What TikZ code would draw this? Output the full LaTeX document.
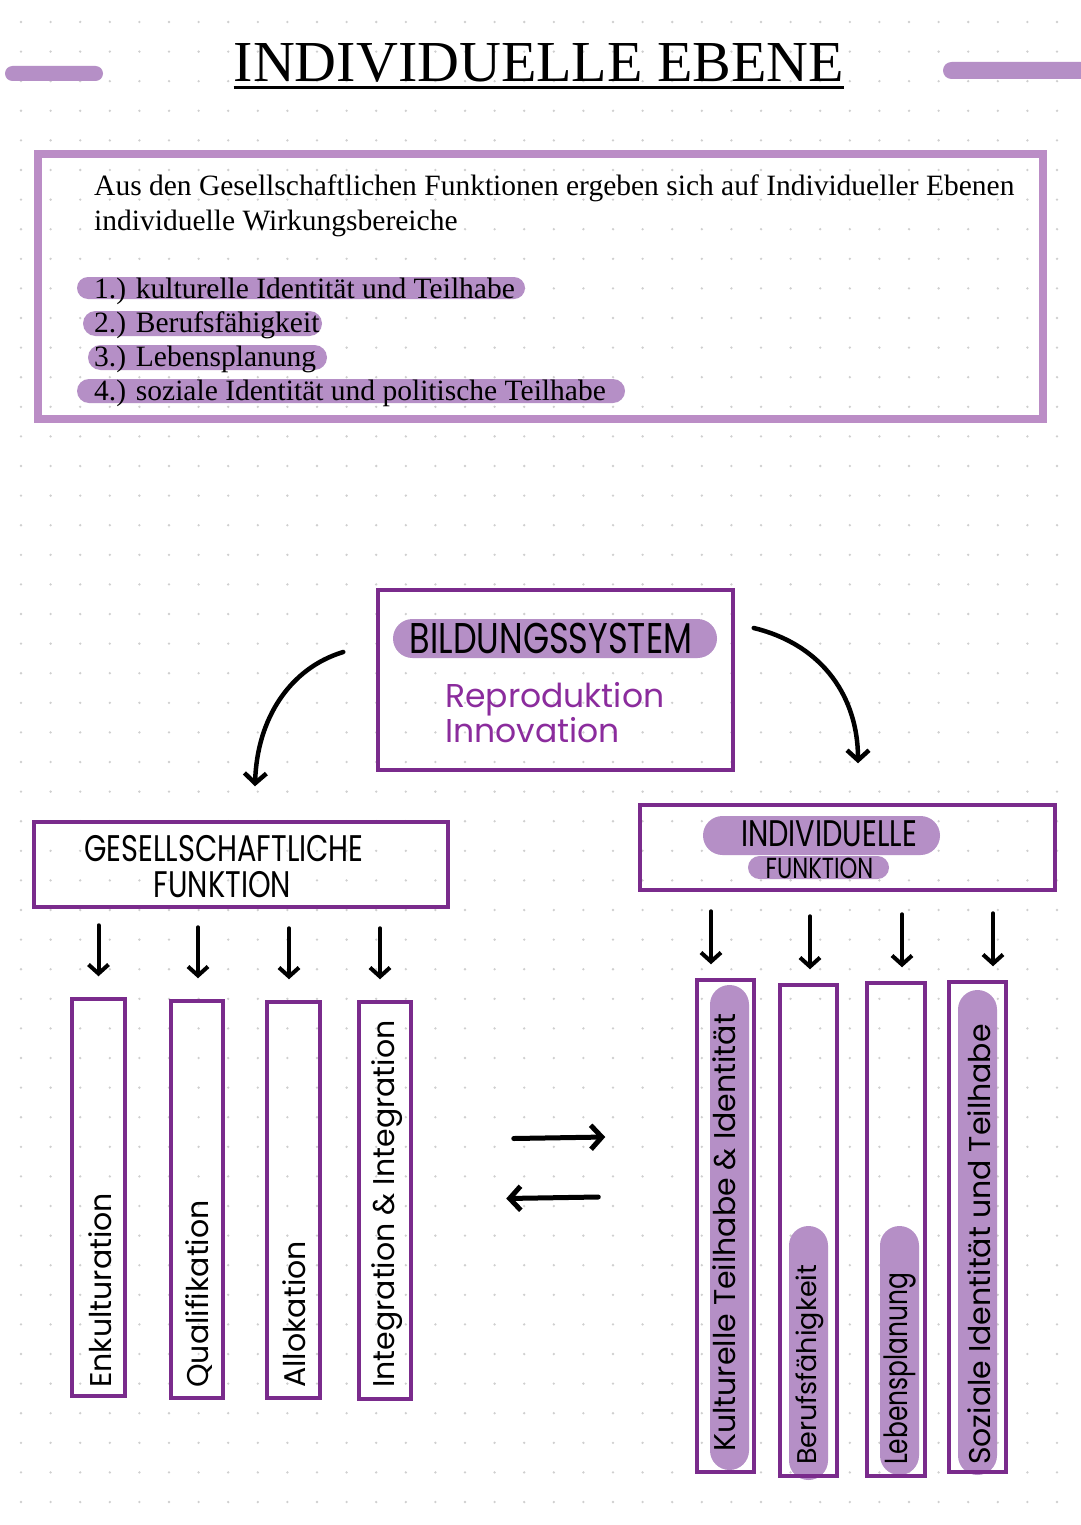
\documentclass[tikz,border=0pt]{standalone}
\usepackage{fontspec}
\setmainfont{Liberation Serif}
\newfontfamily\hand{Poppins}
\newfontfamily\handc[FakeStretch=0.78]{Poppins}
\usetikzlibrary{arrows.meta}
\definecolor{pill}{HTML}{B58FC6}
\definecolor{frame}{HTML}{BB8DC6}
\definecolor{deep}{HTML}{7A2B8C}
\definecolor{repro}{HTML}{8B2C9D}
\definecolor{griddot}{HTML}{CFCFCF}

\begin{document}
\begin{tikzpicture}[x=1pt,y=-1pt,
    box/.style={draw=deep,line width=3.5pt,inner sep=0pt},
    hilite/.style={fill=pill,rounded corners=#1},
    hilite/.default=11pt,
    serif/.style={font=\fontsize{29.5}{34}\selectfont,anchor=base west,inner sep=0pt},
    head/.style={font=\handc\fontsize{#1}{#1}\selectfont,inner sep=0pt},
    vlabel/.style={font=\hand\fontsize{30}{30}\selectfont,rotate=90,anchor=west,inner sep=0pt},
    arr/.style={-{Straight Barb[length=9pt,width=20pt]},line width=4pt,line cap=round},
    bigarr/.style={-{Straight Barb[length=11pt,width=24pt]},line width=5pt,line cap=round}]
  \useasboundingbox (0,0) rectangle (1080,1525);
  \fill[white] (0,0) rectangle (1080,1525);
  \foreach \i in {0,...,36}
    \foreach \j in {0,...,51}
      \fill[griddot] (21+29.6*\i,22+29.6*\j) circle (1.3pt);

  % title
  \fill[hilite=7.5pt] (5,66) rectangle (103,81);
  \fill[hilite=8.5pt] (943,62) rectangle (1090,79);
  \node[font=\fontsize{58}{60}\selectfont,inner sep=0pt,anchor=base] (title) at (539,82) {INDIVIDUELLE EBENE};
  \draw[line width=3pt] ([yshift=-6pt]title.base west) -- ([yshift=-6pt]title.base east);

  % intro box
  \draw[frame,line width=8pt] (38,154) rectangle (1043,419);
  \node[serif] (i1) at (94,196) {Aus den Gesellschaftlichen Funktionen ergeben sich auf Individueller Ebenen};
  \node[serif] (i2) at (94,230) {individuelle Wirkungsbereiche};
  \fill[hilite] (77,277) rectangle (525,299);
  \fill[hilite=12.5pt] (83,311) rectangle (322,336);
  \fill[hilite=12.5pt] (88,345) rectangle (327,370);
  \fill[hilite=12pt] (77,379) rectangle (625,403);
  \node[serif] (l1) at (94,298) {1.) kulturelle Identität und Teilhabe};
  \node[serif] (l2) at (94,332) {2.) Berufsfähigkeit};
  \node[serif] (l3) at (94,366) {3.) Lebensplanung};
  \node[serif] (l4) at (94,400) {4.) soziale Identität und politische Teilhabe};

  % bildungssystem
  \node[box,minimum width=355pt,minimum height=180pt] (bs) at (555.5,680) {};
  \fill[hilite=19.5pt] (393,619) rectangle (717,658);
  \node[head=43] (bst) at (551,638) {BILDUNGSSYSTEM};
  \node[font=\hand\fontsize{33}{32}\selectfont,text=repro,align=left,anchor=north west,inner sep=0pt] (ri) at (445,682) {Reproduktion\\Innovation};

  % function boxes
  \node[box,minimum width=414pt,minimum height=85pt] (gf) at (241,864.5) {};
  \node[head=37] (gf1) at (224,849) {GESELLSCHAFTLICHE};
  \node[head=37] (gf2) at (222.5,885) {FUNKTION};
  \node[box,minimum width=415pt,minimum height=85pt] (if) at (847.5,847.5) {};
  \fill[hilite=19.5pt] (703,816) rectangle (940,855);
  \fill[hilite=11.5pt] (748,856) rectangle (889,879);
  \node[head=37] (if1) at (829,834) {INDIVIDUELLE};
  \node[head=29] (if2) at (819.5,868) {FUNKTION};

  \draw[line width=4.5pt,line cap=round,-{Straight Barb[length=10pt,width=22pt]}]
    ([xshift=-33pt,yshift=28pt]bs.west) .. controls +(-53,16) and +(2,-68) .. ([xshift=14pt,yshift=34pt]gf.north);
  \draw[line width=4.5pt,line cap=round,-{Straight Barb[length=10pt,width=22pt]}]
    ([xshift=19pt,yshift=52pt]bs.east) .. controls +(70,17) and +(0,-65) .. ([xshift=10.5pt,yshift=40pt]if.north);

  % gesellschaftliche
  \node[box,minimum width=53pt,minimum height=397pt] (g1) at (98.5,1197.5) {};
  \node[box,minimum width=52pt,minimum height=397pt] (g2) at (197,1199.5) {};
  \node[box,minimum width=53pt,minimum height=396pt] (g3) at (293.5,1200) {};
  \node[box,minimum width=52pt,minimum height=397pt] (g4) at (385,1200.5) {};
  \node[vlabel] (t1) at (100,1388) {Enkulturation};
  \node[vlabel] (t2) at (199,1388) {Qualifikation};
  \node[vlabel] (t3) at (294,1388) {Allokation};
  \node[vlabel] (t4) at (387,1388) {Integration \& Integration};
  \foreach \k/\dx in {1/0,2/1,3/-4.5,4/-5}
    \draw[arr] ([xshift=\dx pt,yshift=72pt]g\k.north) -- ([xshift=\dx pt,yshift=21pt]g\k.north);

  % individuelle
  \fill[hilite=19.5pt] (710,985) rectangle (749,1470);
  \fill[hilite=19.5pt] (789,1226) rectangle (828,1480);
  \fill[hilite=19.5pt] (880,1226) rectangle (919,1475);
  \fill[hilite=19.5pt] (958,990) rectangle (997,1475);
  \node[box,minimum width=57pt,minimum height=492pt] (r1) at (725.5,1226) {};
  \node[box,minimum width=57pt,minimum height=491pt] (r2) at (808.5,1230.5) {};
  \node[box,minimum width=58pt,minimum height=493pt] (r3) at (896,1229.5) {};
  \node[box,minimum width=57pt,minimum height=490pt] (r4) at (977.5,1227) {};
  \node[vlabel] (u1) at (724,1452) {Kulturelle Teilhabe \& Identität};
  \node[vlabel,font=\hand\fontsize{27}{27}\selectfont] (u2) at (810,1465) {Berufsfähigkeit};
  \node[vlabel,font=\handc\fontsize{32}{32}\selectfont] (u3) at (900,1465) {Lebensplanung};
  \node[vlabel] (u4) at (979,1465) {Soziale Identität und Teilhabe};
  \foreach \k/\dx in {1/-14.5,2/1.5,3/6,4/15.5}
    \draw[arr] ([xshift=\dx pt,yshift=67pt]r\k.north) -- ([xshift=\dx pt,yshift=14pt]r\k.north);

  % wechselwirkung
  \draw[bigarr] ([xshift=101pt,yshift=62pt]g4.east) -- ([xshift=-90pt,yshift=89pt]r1.west);
  \draw[bigarr] ([xshift=-97pt,yshift=29pt]r1.west) -- ([xshift=93.5pt,yshift=2pt]g4.east);
\end{tikzpicture}
\end{document}
